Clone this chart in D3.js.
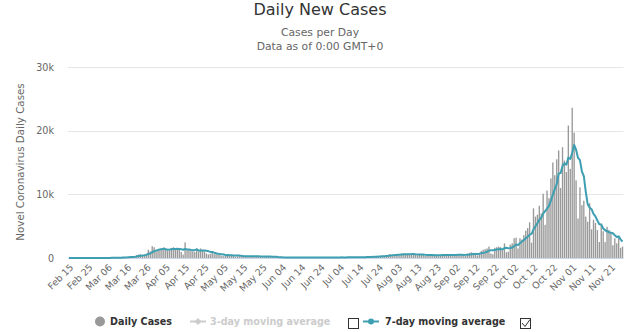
<!DOCTYPE html>
<html><head><meta charset="utf-8">
<script src="https://cdn.jsdelivr.net/npm/d3@7"></script>
<style>body{margin:0;background:#fff}svg{display:block;font-family:"DejaVu Sans",sans-serif}</style>
</head><body><svg id="c" width="640" height="332"></svg>
<script>
// ---- data (Feb 15 – Nov 27, 2020) ----
const casesFeb = [0,0,0,0,0,0,0,0,0,0,0,0,0,0,0];
const casesMar = [1,0,6,5,10,27,59,60,31,39,28,47,85,160,133,197,172,185,243,309,462,558,586,342,526,668,1298,1049,1850,1702,1063];
const casesApr = [1189,1384,1422,1661,1260,1123,1209,1580,1684,1351,1629,1329,942,530,2454,1236,1329,1054,1032,933,1487,973,1496,1259,1032,701,553,647,1042,606];
const casesMay = [600,514,455,361,287,323,639,482,456,312,197,259,284,352,300,348,248,216,281,292,265,236,280,154,145,299,233,199,235,120,91];
const casesJun = [123,82,75,90,103,89,88,43,114,81,93,91,91,81,74,49,103,101,79,107,66,47,88,106,99,90,71,101,81,139];
const casesJul = [84,97,98,83,115,72,130,103,126,133,122,77,80,162,131,176,165,220,193,144,213,283,256,314,349,355,245,395,497,628,454];
const casesAug = [585,607,499,399,742,730,646,592,580,594,570,477,523,485,592,528,318,386,451,500,474,497,405,300,421,589,552,544,466,413,303];
const casesSep = [550,600,620,580,450,300,350,700,820,900,780,550,400,600,1100,1300,1400,1500,1800,700,600,1600,1700,1800,1700,1200,2300,900,1000,2100];
const casesOct = [2300,3100,3200,1500,3100,2900,3600,4300,4700,5600,2400,7800,6500,6800,8200,7000,10100,5200,10600,9400,12500,15000,13000,15500,16900,11000,17400,15300,13500,20800,14000];
const casesNov = [23600,19700,12200,6200,11100,8300,9000,6500,5700,8600,4500,6000,5500,4400,2500,5400,4200,2500,4900,4400,3900,2000,3100,2300,3200,1600,1800];

const avgFeb = [0,0,0,0,0,0,0,0,0,0,0,0,0,0,0];
const avgMar = [0,0,1,2,3,7,15,24,28,33,36,42,50,64,75,98,117,140,168,200,243,304,359,384,432,493,634,718,903,1062,1165];
const avgApr = [1260,1362,1380,1467,1383,1300,1321,1377,1420,1410,1405,1415,1389,1292,1417,1353,1350,1268,1225,1224,1361,1149,1186,1176,1173,1126,1072,952,961,834];
const avgMay = [740,666,631,604,552,449,454,437,429,409,385,381,376,335,309,293,284,287,290,291,279,269,260,246,236,239,230,221,221,198,189];
const avgJun = [186,155,132,117,98,93,93,81,86,87,87,86,86,85,89,80,83,84,83,85,83,79,84,85,85,86,81,86,91,98];
const avgJul = [95,95,96,98,100,98,97,100,104,109,114,109,110,115,119,126,130,144,161,170,177,199,211,232,250,273,288,314,344,398,418];
const avgAug = [451,487,524,524,559,574,601,602,598,612,636,598,569,546,546,538,499,473,469,466,464,451,433,430,435,455,463,473,468,469,470];
const avgSep = [488,490,499,505,502,486,493,514,546,586,614,629,643,679,736,804,876,979,1157,1200,1200,1271,1329,1386,1414,1329,1557,1600,1514,1571];
const avgOct = [1643,1843,2129,2014,2329,2600,2814,3100,3329,3671,3800,4471,4986,5443,6000,6329,6971,7371,7771,8186,9000,9971,10829,11600,13271,13329,14471,14871,14657,15771,15557];
const avgNov = [16514,17757,17014,15714,15371,13586,12871,10429,8429,7914,7671,6943,6543,5886,5314,5271,4643,4357,4200,4043,3971,3900,3571,3300,3400,2929,2557];

const dailyCases = [].concat(casesFeb,casesMar,casesApr,casesMay,casesJun,casesJul,casesAug,casesSep,casesOct,casesNov);
const movingAvg7 = [].concat(avgFeb,avgMar,avgApr,avgMay,avgJun,avgJul,avgAug,avgSep,avgOct,avgNov);
const categories = d3.timeDay.range(new Date(2020,1,15), new Date(2020,10,28));

const xTickLabels = ["Feb 15","Feb 25","Mar 06","Mar 16","Mar 26","Apr 05","Apr 15","Apr 25","May 05","May 15","May 25","Jun 04","Jun 14","Jun 24","Jul 04","Jul 14","Jul 24","Aug 03","Aug 13","Aug 23","Sep 02","Sep 12","Sep 22","Oct 02","Oct 12","Oct 22","Nov 01","Nov 11","Nov 21"];
const yTicks = [0,10000,20000,30000];
const yTickLabels = ["0","10k","20k","30k"];

// ---- drawing ----
const svg = d3.select("#c");
const L = 68, R = 623.5, T = 67, B = 258;
const x = d3.scaleBand().domain(d3.range(dailyCases.length)).range([L, R]).paddingInner(0.3).paddingOuter(0.15);
const y = d3.scaleLinear().domain([0, 30000]).range([B, T]);

svg.append("text").attr("x",320).attr("y",15).attr("text-anchor","middle")
  .attr("font-size","16px").attr("fill","#333").text("Daily New Cases");
svg.append("text").attr("x",320).attr("y",36).attr("text-anchor","middle")
  .attr("font-size","10.8px").attr("fill","#666").text("Cases per Day");
svg.append("text").attr("x",320).attr("y",50).attr("text-anchor","middle")
  .attr("font-size","10.8px").attr("fill","#666").text("Data as of 0:00 GMT+0");

// grid
svg.append("g").selectAll("line").data(yTicks.slice(1)).join("line")
  .attr("x1",L).attr("x2",R).attr("y1",d=>Math.round(y(d))+0.5).attr("y2",d=>Math.round(y(d))+0.5)
  .attr("stroke","#e6e6e6").attr("stroke-width",1);

// y axis labels
const yAxis = d3.axisLeft(y).tickValues(yTicks).tickFormat((d,i)=>yTickLabels[i]).tickSize(0).tickPadding(0);
const gy = svg.append("g").attr("transform",`translate(${L-14},0)`).call(yAxis);
gy.select(".domain").remove();
gy.selectAll("text").attr("font-size","9.6px").attr("fill","#666").attr("font-family","DejaVu Sans");

svg.append("text").attr("transform","translate(24,162) rotate(-90)").attr("text-anchor","middle")
  .attr("font-size","10.3px").attr("fill","#666").text("Novel Coronavirus Daily Cases");

// x axis line
svg.append("line").attr("x1",L).attr("x2",R).attr("y1",B+0.5).attr("y2",B+0.5).attr("stroke","#ccd6eb");

// bars
svg.append("g").selectAll("rect").data(dailyCases).join("rect")
  .attr("x",(d,i)=>x(i)).attr("width",x.bandwidth())
  .attr("y",d=>y(d)).attr("height",d=>B-y(d))
  .attr("fill","#999");

// moving average line
const line = d3.line().x((d,i)=>x(i)+x.bandwidth()/2).y(d=>y(d));
svg.append("path").datum(movingAvg7).attr("d",line).attr("fill","none")
  .attr("stroke","#3d9fb1").attr("stroke-width",2).attr("stroke-linejoin","round");

// x tick labels
const xTickIdx = xTickLabels.map((_,k)=>k*10);
const xAxis = d3.axisBottom(x).tickValues(xTickIdx).tickFormat((d,i)=>xTickLabels[i]).tickSize(0).tickPadding(0);
const gx = svg.append("g").attr("transform",`translate(0,${B})`).call(xAxis);
gx.select(".domain").remove();
gx.selectAll("text").attr("font-size","9.4px").attr("fill","#666").attr("font-family","DejaVu Sans")
  .attr("text-anchor","end").attr("dy",null).attr("y",null)
  .attr("transform","translate(5,10) rotate(-45)");

// legend
const lg = svg.append("g").attr("font-size","9.6px").attr("font-weight","bold");
lg.append("circle").attr("cx",100).attr("cy",321.5).attr("r",5).attr("fill","#999");
lg.append("text").attr("x",110).attr("y",325).attr("fill","#333").text("Daily Cases");
lg.append("line").attr("x1",190).attr("x2",206).attr("y1",321.5).attr("y2",321.5).attr("stroke","#ccc").attr("stroke-width",2);
lg.append("path").attr("d","M198,318 L201.5,321.5 L198,325 L194.5,321.5 Z").attr("fill","#ccc");
lg.append("text").attr("x",210).attr("y",325).attr("fill","#ccc").text("3-day moving average");
lg.append("rect").attr("x",348.5).attr("y",318.5).attr("width",10).attr("height",10).attr("fill","#fff").attr("stroke","#333");
lg.append("line").attr("x1",363).attr("x2",379).attr("y1",321.5).attr("y2",321.5).attr("stroke","#3d9fb1").attr("stroke-width",2);
lg.append("circle").attr("cx",371).attr("cy",321.5).attr("r",3).attr("fill","#3d9fb1");
lg.append("text").attr("x",385).attr("y",325).attr("fill","#333").text("7-day moving average");
lg.append("rect").attr("x",520.5).attr("y",318.5).attr("width",10).attr("height",10).attr("fill","#fff").attr("stroke","#333");
lg.append("path").attr("d","M522,323 L525,326.5 L530,319.5").attr("fill","none").attr("stroke","#333").attr("stroke-width",1);
</script></body></html>
